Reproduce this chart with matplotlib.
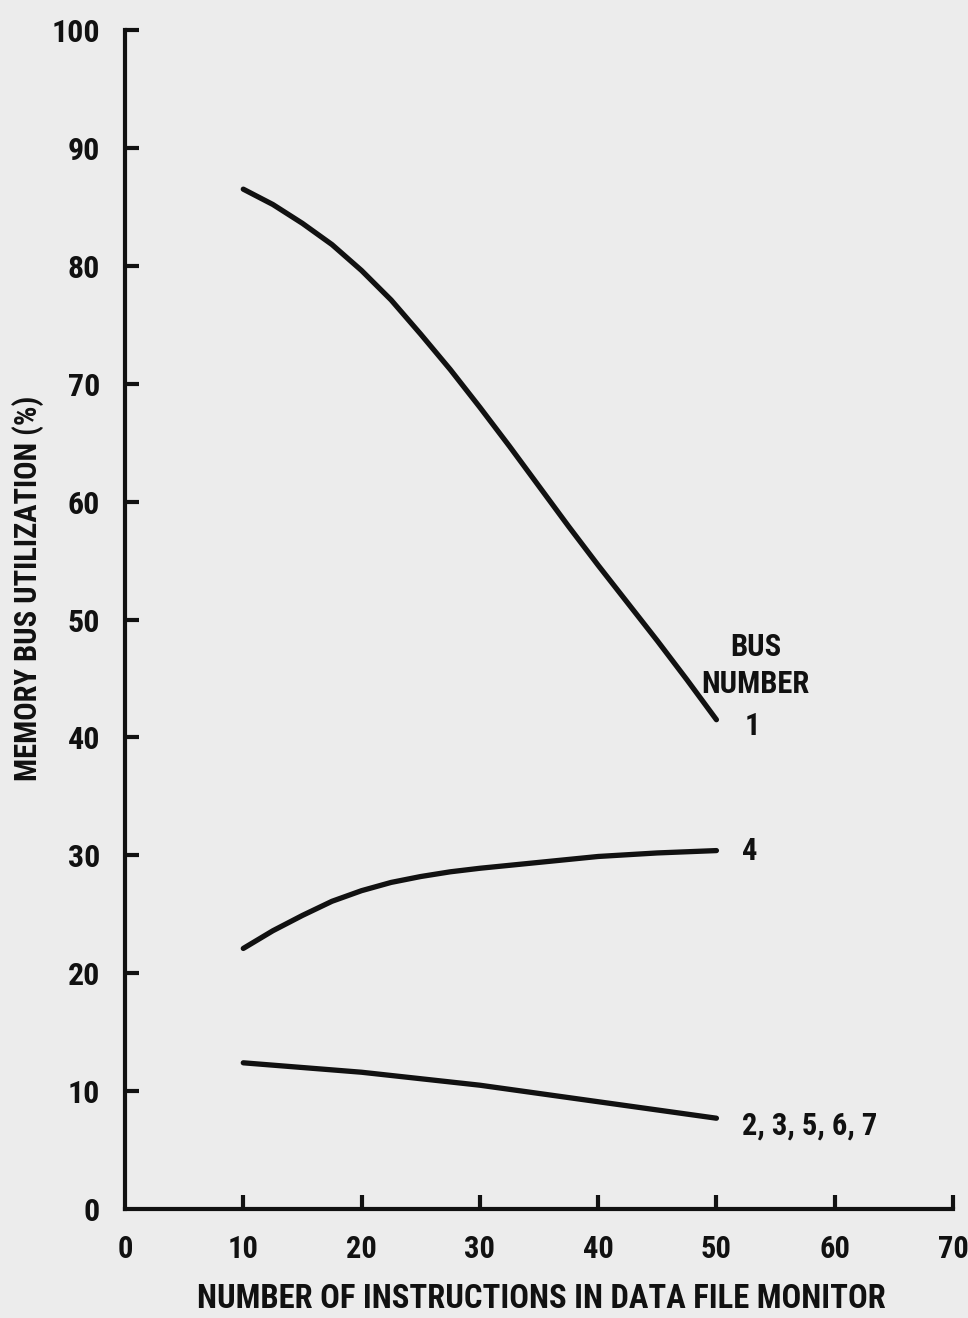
import matplotlib
matplotlib.use("Agg")
import matplotlib.pyplot as plt

# memory bus utilization (%) vs. number of instructions in the data file monitor
instr_1 = [10, 12.5, 15, 17.5, 20, 22.5, 25, 27.5, 30, 32.5, 35, 37.5, 40, 42.5, 45, 47.5, 50]
bus_1 = [86.5, 85.2, 83.6, 81.8, 79.6, 77.1, 74.2, 71.2, 68.0, 64.7, 61.3, 57.9, 54.6, 51.4, 48.2, 44.9, 41.5]

instr_4 = [10, 12.5, 15, 17.5, 20, 22.5, 25, 27.5, 30, 35, 40, 45, 50]
bus_4 = [22.1, 23.6, 24.9, 26.1, 27.0, 27.7, 28.2, 28.6, 28.9, 29.4, 29.9, 30.2, 30.4]

instr_other = [10, 20, 30, 40, 50]
bus_other = [12.4, 11.6, 10.5, 9.1, 7.7]

xticks = [0, 10, 20, 30, 40, 50, 60, 70]
yticks = [0, 10, 20, 30, 40, 50, 60, 70, 80, 90, 100]

ink = "#111111"
paper = "#ececec"
fam = ["Roboto Condensed", "DejaVu Sans"]

W, H = 968, 1318
fig = plt.figure(figsize=(W / 100, H / 100), dpi=100, facecolor=paper)
ax = fig.add_axes([125 / W, 1 - 1209 / H, (953 - 125) / W, (1209 - 30) / H])
ax.set_facecolor(paper)

for xs, ys in ((instr_1, bus_1), (instr_4, bus_4), (instr_other, bus_other)):
    ax.plot(xs, ys, color=ink, lw=3.8, solid_capstyle="round", solid_joinstyle="round")

ax.set_xlim(0, 70)
ax.set_ylim(0, 100)
for s in ("top", "right"):
    ax.spines[s].set_visible(False)
for s in ("left", "bottom"):
    ax.spines[s].set_linewidth(3)
    ax.spines[s].set_color(ink)
    ax.spines[s].set_capstyle("projecting")

ax.set_xticks(xticks)
ax.set_yticks(yticks)
ax.tick_params(direction="in", length=10, width=3, color=ink, labelcolor=ink)
ax.tick_params(axis="x", pad=18, labelsize=22)
ax.tick_params(axis="y", pad=18, labelsize=23)
# no tick marks at the origin, labels stay
ax.xaxis.get_major_ticks()[0].tick1line.set_visible(False)
ax.yaxis.get_major_ticks()[0].tick1line.set_visible(False)
for lab in ax.get_xticklabels() + ax.get_yticklabels():
    lab.set_family(fam)
    lab.set_weight("bold")

fig.text(541 / W, 1 - 1299 / H, "NUMBER OF INSTRUCTIONS IN DATA FILE MONITOR",
         ha="center", va="center", fontsize=23.5, fontweight="bold", family=fam, color=ink)
fig.text(28 / W, 1 - 588 / H, "MEMORY BUS UTILIZATION (%)", rotation=90,
         ha="center", va="center", fontsize=22, fontweight="bold", family=fam, color=ink)

txt = dict(fontsize=22, fontweight="bold", family=fam, color=ink)
ax.text(53.3, 46.9, "BUS", ha="center", va="baseline", **txt)
ax.text(53.3, 43.8, "NUMBER", ha="center", va="baseline", **txt)
ax.text(53.0, 41.0, "1", ha="center", va="center", **txt)
ax.text(52.8, 30.4, "4", ha="center", va="center", **txt)
ax.text(52.2, 7.1, "2, 3, 5, 6, 7", ha="left", va="center", **txt)

fig.savefig("out.png", dpi=100, facecolor=paper)
